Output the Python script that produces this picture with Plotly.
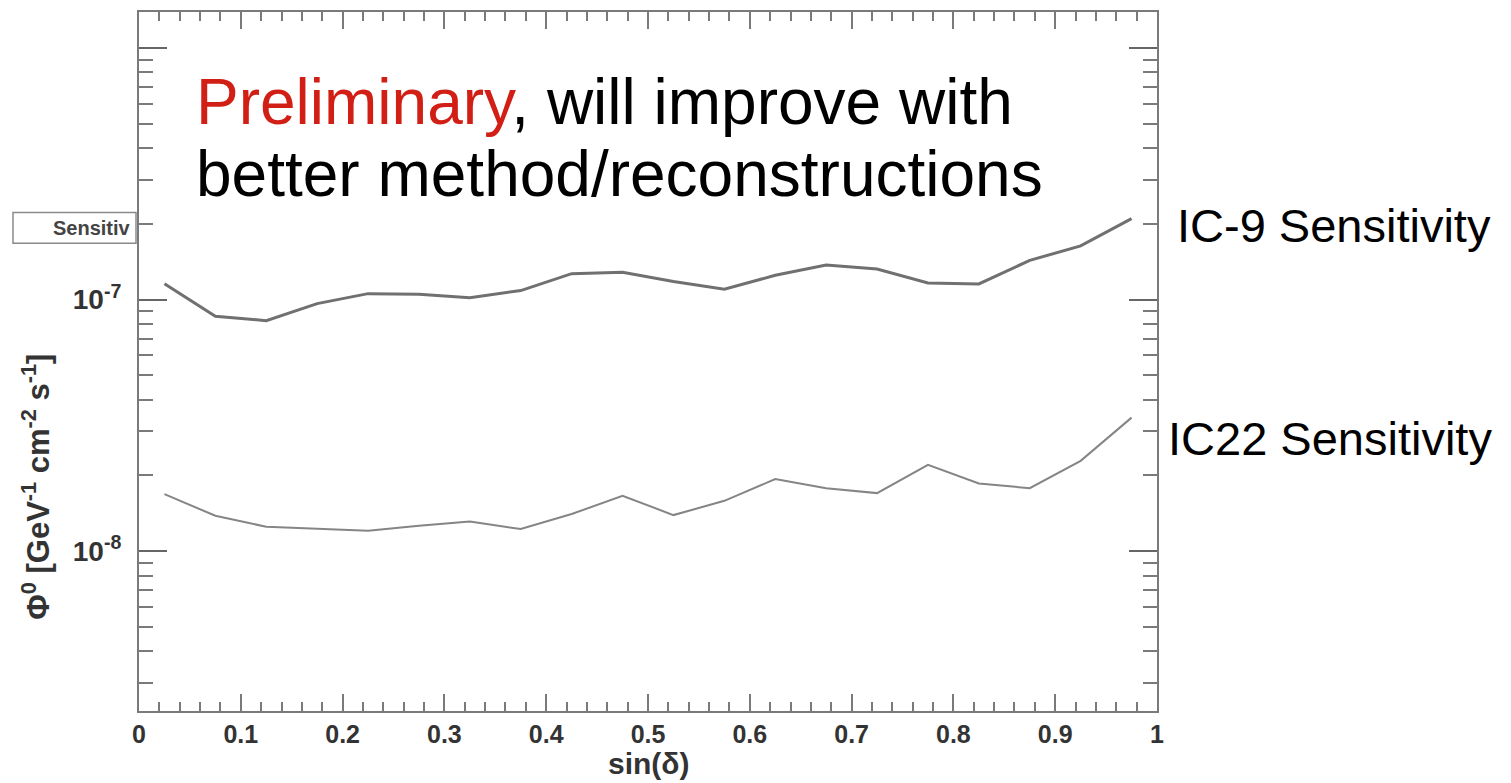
import plotly.graph_objects as go

# ---- data ----
sin_delta = [0.025, 0.075, 0.125, 0.175, 0.225, 0.275, 0.325, 0.375, 0.425, 0.475,
             0.525, 0.575, 0.625, 0.675, 0.725, 0.775, 0.825, 0.875, 0.925, 0.975]
ic9_sens = [1.157e-7, 8.59e-8, 8.25e-8, 9.64e-8, 1.056e-7, 1.05e-7, 1.018e-7, 1.086e-7,
            1.268e-7, 1.283e-7, 1.18e-7, 1.099e-7, 1.249e-7, 1.373e-7, 1.323e-7,
            1.165e-7, 1.154e-7, 1.432e-7, 1.634e-7, 2.097e-7]
ic22_sens = [1.687e-8, 1.383e-8, 1.251e-8, 1.225e-8, 1.206e-8, 1.262e-8, 1.313e-8,
             1.225e-8, 1.405e-8, 1.661e-8, 1.392e-8, 1.586e-8, 1.934e-8, 1.781e-8,
             1.702e-8, 2.204e-8, 1.858e-8, 1.781e-8, 2.287e-8, 3.396e-8]
y_major_vals = [1e-8, 1e-7]
y_major_text = ["10<sup>-8</sup>", "10<sup>-7</sup>"]
y_unlabeled_major = [1e-6]
x_tick_vals = [0, 0.1, 0.2, 0.3, 0.4, 0.5, 0.6, 0.7, 0.8, 0.9, 1.0]
x_tick_text = ["0", "0.1", "0.2", "0.3", "0.4", "0.5", "0.6", "0.7", "0.8", "0.9", "1"]
y_minor_vals = [m * 10.0 ** e for e in (-9, -8, -7) for m in range(2, 10)]

W, H = 1511, 783
L, R, T, B = 139, 1157, 10, 711


def px(x):
    return (x - L) / (R - L)


def py(y):
    return (B - y) / (B - T)


AX = "#7a7a7a"
FONT = "Liberation Sans, Arial, sans-serif"

fig = go.Figure()
fig.add_trace(go.Scatter(x=sin_delta, y=ic9_sens, mode="lines",
                         line=dict(color="#707070", width=3), showlegend=False))
fig.add_trace(go.Scatter(x=sin_delta, y=ic22_sens, mode="lines",
                         line=dict(color="#858585", width=2), showlegend=False))

fig.update_layout(
    width=W, height=H,
    margin=dict(l=L, r=W - R, t=T, b=H - B, pad=0),
    paper_bgcolor="white", plot_bgcolor="white",
    font=dict(family=FONT, color="#333333"),
    xaxis=dict(
        range=[0, 1], showgrid=False, zeroline=False,
        showline=True, linecolor=AX, linewidth=2, mirror="ticks",
        ticks="inside", ticklen=17, tickwidth=2, tickcolor=AX,
        tickvals=x_tick_vals, ticktext=x_tick_text,
        tickfont=dict(size=25, color="#333333", family=FONT, weight="bold"),
        minor=dict(dtick=0.02, ticks="inside", ticklen=9, tickwidth=2, tickcolor=AX),
    ),
    yaxis=dict(
        type="log", range=[-8.635, -5.857], showgrid=False, zeroline=False,
        showline=True, linecolor=AX, linewidth=2, mirror="ticks",
        ticks="inside", ticklen=28, tickwidth=2, tickcolor="#666666",
        tickvals=y_major_vals, ticktext=y_major_text,
        tickfont=dict(size=28, color="#333333", family=FONT, weight="bold"),
        ticklabelstandoff=10,
        minor=dict(tickvals=y_minor_vals, ticks="inside", ticklen=14, tickwidth=2,
                   tickcolor=AX),
    ),
    # secondary overlaying axis used only for the unlabeled 1e-6 major tick
    yaxis2=dict(
        type="log", range=[-8.635, -5.857], overlaying="y", side="left",
        showgrid=False, zeroline=False, showline=False, mirror="ticks",
        ticks="inside", ticklen=28, tickwidth=2, tickcolor="#666666",
        tickvals=y_unlabeled_major, showticklabels=False,
    ),
)
fig.add_trace(go.Scatter(x=[None], y=[None], yaxis="y2", showlegend=False,
                         hoverinfo="skip"))

annotations = [
    dict(x=px(194), y=py(100), xref="paper", yref="paper", xanchor="left", yanchor="middle",
         text='<span style="color:#d21f16">Preliminary</span>, will improve with',
         showarrow=False, font=dict(size=64, color="black", family=FONT)),
    dict(x=px(194), y=py(172), xref="paper", yref="paper", xanchor="left", yanchor="middle",
         text="better method/reconstructions",
         showarrow=False, font=dict(size=64, color="black", family=FONT)),
    dict(x=px(1175), y=py(224), xref="paper", yref="paper", xanchor="left", yanchor="middle",
         text="IC-9 Sensitivity", showarrow=False,
         font=dict(size=47, color="black", family=FONT)),
    dict(x=px(1166), y=py(438), xref="paper", yref="paper", xanchor="left", yanchor="middle",
         text="IC22 Sensitivity", showarrow=False,
         font=dict(size=47, color="black", family=FONT)),
    dict(x=px(649), y=py(764), xref="paper", yref="paper", xanchor="center", yanchor="middle",
         text="sin(δ)", showarrow=False,
         font=dict(size=30, color="#333333", family=FONT, weight="bold")),
    dict(x=px(36), y=py(486), xref="paper", yref="paper", xanchor="center", yanchor="middle",
         text="Φ<sup>0</sup> [GeV<sup>-1</sup> cm<sup>-2</sup> s<sup>-1</sup>]",
         textangle=-90, showarrow=False,
         font=dict(size=31, color="#333333", family=FONT, weight="bold")),
    dict(x=px(133), y=py(227), xref="paper", yref="paper", xanchor="right", yanchor="middle",
         text="Sensitiv", showarrow=False,
         font=dict(size=20, color="#444444", family=FONT, weight="bold")),
]
fig.update_layout(annotations=annotations)

fig.add_shape(type="rect", xref="paper", yref="paper",
              x0=px(13), x1=px(136), y0=py(242), y1=py(211),
              line=dict(color="#8a8a8a", width=1.5), fillcolor="rgba(0,0,0,0)")

fig.write_html("out.html")
